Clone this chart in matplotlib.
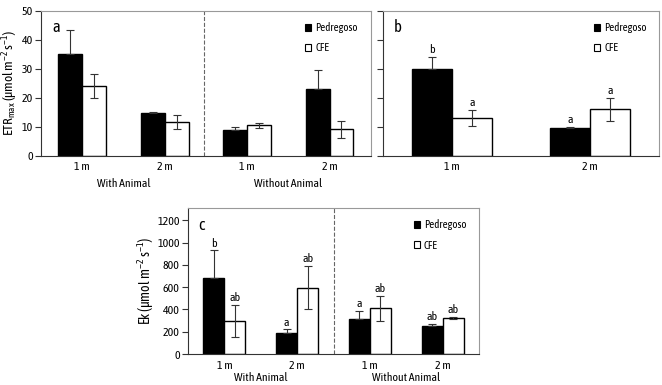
import numpy as np
import matplotlib
matplotlib.use("Agg")
import matplotlib.pyplot as plt
from matplotlib.font_manager import fontManager

names = {f.name for f in fontManager.ttflist}
narrow = 'Asap Condensed' if 'Asap Condensed' in names else 'DejaVu Sans'
plt.rcParams['font.family'] = [narrow, 'DejaVu Sans']
plt.rcParams['mathtext.fontset'] = 'custom'
plt.rcParams['mathtext.rm'] = narrow
plt.rcParams['mathtext.it'] = narrow

# panel a: ETRmax, four groups
groups4 = ['1 m', '2 m', '1 m', '2 m']
etr_ped = [35.0, 14.8, 8.8, 23.2]
etr_ped_err = [8.5, 0.3, 1.2, 6.3]
etr_cfe = [24.0, 11.7, 10.5, 9.2]
etr_cfe_err = [4.2, 2.3, 1.0, 3.0]

# panel b: ETRmax, two groups
groups2 = ['1 m', '2 m']
b_ped = [29.8, 9.7]
b_ped_err = [4.3, 0.4]
b_cfe = [13.1, 16.1]
b_cfe_err = [2.8, 4.0]
b_ped_lab = ['b', 'a']
b_cfe_lab = ['a', 'a']

# panel c: Ek, four groups
ek_ped = [685, 192, 315, 255]
ek_ped_err = [245, 30, 72, 15]
ek_cfe = [297, 597, 411, 322]
ek_cfe_err = [143, 196, 114, 12]
ek_ped_lab = ['b', 'a', 'a', 'ab']
ek_cfe_lab = ['ab', 'ab', 'ab', 'ab']

treat = ['With Animal', 'Without Animal']

fig = plt.figure(figsize=(6.62, 3.85), dpi=100)
ax_a = fig.add_axes([0.062, 0.595, 0.498, 0.377])
ax_b = fig.add_axes([0.5785, 0.595, 0.417, 0.377])
ax_c = fig.add_axes([0.284, 0.0805, 0.4396, 0.379])

w = 0.29
fs = 8.5
ekw = dict(ecolor='#333333', elinewidth=0.8, capsize=3, capthick=0.8)


def style(ax):
    for s in ['left', 'bottom']:
        ax.spines[s].set_color('#333333')
    for s in ['top', 'right']:
        ax.spines[s].set_color('#999999')
    for s in ax.spines.values():
        s.set_linewidth(0.8)
    ax.tick_params(axis='x', length=0, labelsize=fs, pad=4)
    ax.tick_params(axis='y', length=4, labelsize=fs, color='#333333', pad=2)


def bars(ax, ped, ped_err, cfe, cfe_err):
    x = np.arange(len(ped))
    ax.bar(x - w / 2, ped, w, yerr=[np.zeros(len(ped)), ped_err], color='black',
           edgecolor='black', linewidth=1, error_kw=ekw, label='Pedregoso')
    ax.bar(x + w / 2, cfe, w, yerr=cfe_err, color='white', edgecolor='black',
           linewidth=1, error_kw=ekw, label='CFE')
    ax.set_xticks(x)
    return x


def letters(ax, x, vals, errs, labs, off):
    for xi, v, e, t in zip(x, vals, errs, labs):
        ax.text(xi, v + e + off, t, ha='center', va='bottom', fontsize=fs)


def leg(ax):
    lg = ax.legend(loc='upper right', frameon=False, fontsize=7.8, handlelength=0.6,
                   handleheight=0.6, labelspacing=0.85, handletextpad=0.35,
                   bbox_to_anchor=(0.99, 0.99))
    for h in lg.legend_handles:
        h.set_linewidth(0.8)


# a
x = bars(ax_a, etr_ped, etr_ped_err, etr_cfe, etr_cfe_err)
ax_a.set_xticklabels(groups4)
ax_a.set_xlim(-0.5, 3.5)
ax_a.set_ylim(0, 50)
ax_a.set_yticks(range(0, 51, 10))
ax_a.axvline(1.48, color='#666666', linestyle='--', linewidth=0.8)
ax_a.set_ylabel('ETR$_{max}$ (µmol m$^{-2}$ s$^{-1}$)', fontsize=9.5, labelpad=1)
ax_a.text(0.035, 0.94, 'a', transform=ax_a.transAxes, fontsize=12, va='top')
ax_a.text(0.5, -0.19, treat[0], transform=ax_a.get_xaxis_transform(), ha='center', va='center', fontsize=fs)
ax_a.text(2.5, -0.19, treat[1], transform=ax_a.get_xaxis_transform(), ha='center', va='center', fontsize=fs)
style(ax_a)
leg(ax_a)

# b
x = bars(ax_b, b_ped, b_ped_err, b_cfe, b_cfe_err)
ax_b.set_xticklabels(groups2)
ax_b.set_xlim(-0.5, 1.5)
ax_b.set_ylim(0, 50)
ax_b.set_yticks(range(0, 51, 10))
ax_b.set_yticklabels([])
letters(ax_b, x - w / 2, b_ped, b_ped_err, b_ped_lab, 0.6)
letters(ax_b, x + w / 2, b_cfe, b_cfe_err, b_cfe_lab, 0.6)
ax_b.text(0.04, 0.94, 'b', transform=ax_b.transAxes, fontsize=12, va='top')
style(ax_b)
leg(ax_b)

# c
x = bars(ax_c, ek_ped, ek_ped_err, ek_cfe, ek_cfe_err)
ax_c.set_xticklabels(groups4)
ax_c.set_xlim(-0.5, 3.5)
ax_c.set_ylim(0, 1310)
ax_c.set_yticks(range(0, 1201, 200))
ax_c.axvline(1.5, color='#666666', linestyle='--', linewidth=0.8)
ax_c.set_ylabel('Ek (µmol m$^{-2}$ s$^{-1}$)', fontsize=10, labelpad=1)
letters(ax_c, x - w / 2, ek_ped, ek_ped_err, ek_ped_lab, 15)
letters(ax_c, x + w / 2, ek_cfe, ek_cfe_err, ek_cfe_lab, 15)
ax_c.text(0.035, 0.94, 'c', transform=ax_c.transAxes, fontsize=12, va='top')
ax_c.text(0.5, -0.16, treat[0], transform=ax_c.get_xaxis_transform(), ha='center', va='center', fontsize=fs)
ax_c.text(2.5, -0.16, treat[1], transform=ax_c.get_xaxis_transform(), ha='center', va='center', fontsize=fs)
style(ax_c)
leg(ax_c)

fig.savefig('out.png', dpi=100)
